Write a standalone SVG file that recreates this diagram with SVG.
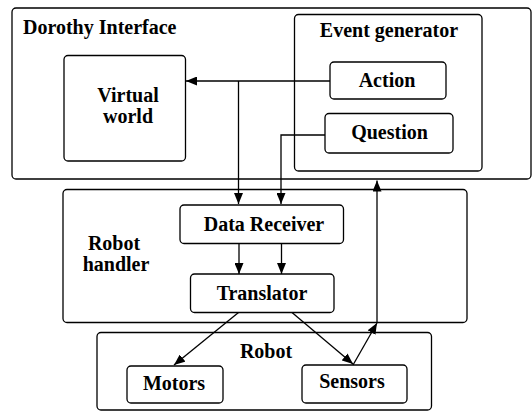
<svg xmlns="http://www.w3.org/2000/svg" width="532" height="412" viewBox="0 0 532 412">
<style>
.box{fill:#fff;stroke:#000;stroke-width:1.3}
.t{font-family:"Liberation Serif","Times New Roman",serif;font-weight:bold;font-size:20px;fill:#000}
.c{text-anchor:middle}
.ln{fill:none;stroke:#000;stroke-width:1.3}
</style>
<defs>
<marker id="ah" markerUnits="userSpaceOnUse" markerWidth="11" markerHeight="9" refX="11" refY="4.5" orient="auto">
<path d="M0,0 L11,4.5 L0,9 z" fill="#000"/>
</marker>
</defs>
<g id="dorothy">
<rect class="box" x="12" y="8" width="519" height="171" rx="4"/>
<text class="t" x="23" y="34">Dorothy Interface</text>
</g>
<g id="event-generator">
<rect class="box" x="294.5" y="14.5" width="187.5" height="156.5" rx="4"/>
<text class="t c" x="389" y="36.5">Event generator</text>
</g>
<g id="virtual-world">
<rect class="box" x="64" y="55.5" width="121.5" height="105.5" rx="4"/>
<text class="t c" x="128" y="102">Virtual</text>
<text class="t c" x="128" y="123">world</text>
</g>
<g id="action">
<rect class="box" x="330" y="62" width="116" height="37" rx="4"/>
<text class="t c" x="387" y="87">Action</text>
</g>
<g id="question">
<rect class="box" x="325" y="113.5" width="128" height="39.5" rx="4"/>
<text class="t c" x="389.5" y="139">Question</text>
</g>
<g id="robot-handler">
<rect class="box" x="63" y="189.5" width="404" height="133" rx="4"/>
<text class="t c" x="114" y="250">Robot</text>
<text class="t c" x="116" y="271">handler</text>
</g>
<g id="data-receiver">
<rect class="box" x="180" y="205" width="163.5" height="38.5" rx="4"/>
<text class="t c" x="264" y="231">Data Receiver</text>
</g>
<g id="translator">
<rect class="box" x="190.5" y="274" width="143.5" height="38.5" rx="4"/>
<text class="t c" x="262" y="300">Translator</text>
</g>
<g id="robot">
<rect class="box" x="97" y="332.5" width="334.5" height="77.5" rx="4"/>
<text class="t c" x="266" y="358">Robot</text>
</g>
<g id="motors">
<rect class="box" x="127" y="366" width="96" height="37" rx="4"/>
<text class="t c" x="174" y="390">Motors</text>
</g>
<g id="sensors">
<rect class="box" x="302" y="365" width="105" height="38" rx="4"/>
<text class="t c" x="352" y="388">Sensors</text>
</g>
<g id="connectors">
<path class="ln" d="M330,81 L186,81" marker-end="url(#ah)"/>
<path class="ln" d="M238.5,81 L238.5,204" marker-end="url(#ah)"/>
<path class="ln" d="M325,135 L281,135 L281,204" marker-end="url(#ah)"/>
<path class="ln" d="M239,243.5 L239,274" marker-end="url(#ah)"/>
<path class="ln" d="M281.5,243.5 L281.5,274" marker-end="url(#ah)"/>
<path class="ln" d="M238.5,312.5 L174,365" marker-end="url(#ah)"/>
<path class="ln" d="M292,312.5 L353,364" marker-end="url(#ah)"/>
<path class="ln" d="M353,365 L377,323" marker-end="url(#ah)"/>
<path class="ln" d="M377,323 L377,180.5" marker-end="url(#ah)"/>
</g>
</svg>
